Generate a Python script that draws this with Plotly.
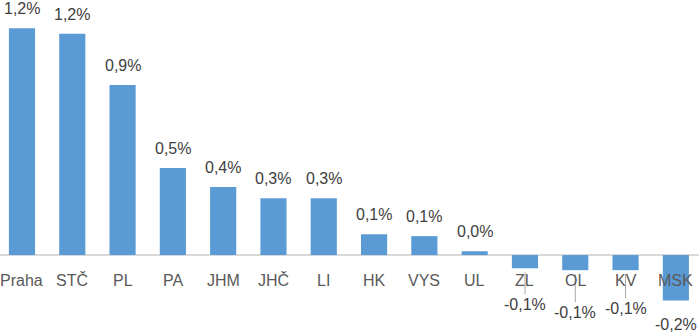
import plotly.graph_objects as go

categories = ["Praha", "STČ", "PL", "PA", "JHM", "JHČ", "LI", "HK", "VYS", "UL", "ZL", "OL", "KV", "MSK"]
values = [1.20, 1.17, 0.90, 0.46, 0.36, 0.30, 0.30, 0.11, 0.10, 0.02, -0.07, -0.08, -0.08, -0.24]
labels = ["1,2%", "1,2%", "0,9%", "0,5%", "0,4%", "0,3%", "0,3%", "0,1%", "0,1%", "0,0%",
          "-0,1%", "-0,1%", "-0,1%", "-0,2%"]
# vertical pixel offset of the negative labels (leader lines)
neg_offsets = {"ZL": 36, "OL": 42, "KV": 38, "MSK": None}

FONT = "Liberation Sans"
x = list(range(len(categories)))

fig = go.Figure()
fig.add_trace(go.Bar(
    x=x, y=values, width=0.52,
    marker=dict(color="#5b9bd5", line=dict(width=0)),
    hoverinfo="skip",
))

ann = []
for i, (c, v, t) in enumerate(zip(categories, values, labels)):
    if v >= 0:
        ann.append(dict(x=i, y=v, text=t, showarrow=False, yanchor="bottom", yshift=9,
                        font=dict(family=FONT, size=16, color="#404040")))
    else:
        off = neg_offsets.get(c)
        if off is None:
            ann.append(dict(x=i, y=v, text=t, showarrow=False, yanchor="top", yshift=-14,
                            font=dict(family=FONT, size=16, color="#404040")))
        else:
            ann.append(dict(x=i, y=v, text=t, showarrow=True, ax=0, ay=off, arrowhead=0,
                            arrowwidth=1, arrowcolor="#a6a6a6", standoff=4,
                            font=dict(family=FONT, size=16, color="#404040")))
    ann.append(dict(x=i, y=0, text=c, showarrow=False, yanchor="middle", yshift=-25,
                    font=dict(family=FONT, size=16, color="#595959")))

fig.update_layout(
    width=699, height=332,
    margin=dict(l=0, r=0, t=0, b=0),
    paper_bgcolor="white", plot_bgcolor="white",
    showlegend=False,
    xaxis=dict(range=[-0.437, 13.46], showticklabels=False, showgrid=False, zeroline=False,
               showline=False, ticks=""),
    yaxis=dict(range=[-0.407, 1.349], showticklabels=False, showgrid=False, zeroline=True,
               zerolinecolor="#d9d9d9", zerolinewidth=2, showline=False, ticks=""),
    annotations=ann,
)

fig.write_html("out.html")
